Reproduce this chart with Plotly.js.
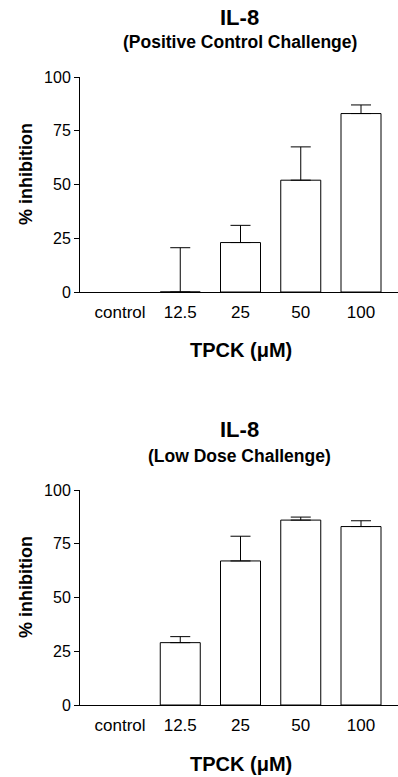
<!DOCTYPE html>
<html>
<head>
<meta charset="utf-8">
<script src="https://cdn.plot.ly/plotly-3.0.1.min.js"></script>
<style>html,body{margin:0;padding:0;background:#fff;}#chart{width:398px;height:777px;}</style>
</head>
<body>
<div id="chart"></div>
<script>
// Data
var categories = ["control", "12.5", "25", "50", "100"];
var positiveMean = [null, 0, 23, 52, 83];
var positiveErr  = [0, 20.6, 8, 15.5, 4];
var lowDoseMean  = [null, 29, 67, 86, 83];
var lowDoseErr   = [0, 2.8, 11.5, 1.4, 2.7];
var yTicks = [0, 25, 50, 75, 100];
var chartTitles = ["<b>IL-8</b>", "<b>IL-8</b>"];
var chartSubtitles = ["<b>(Positive Control Challenge)</b>", "<b>(Low Dose Challenge)</b>"];
var xTitle = "<b>TPCK (\u03bcM)</b>";
var yTitle = "<b>% inhibition</b>";

var FONT = "Liberation Sans, Arial, Helvetica, sans-serif";

function barTrace(means, errs, xa, ya) {
  return {
    type: "bar",
    x: categories,
    y: means,
    xaxis: xa,
    yaxis: ya,
    marker: {color: "#ffffff", line: {color: "#000000", width: 1}},
    error_y: {type: "data", array: errs, arrayminus: errs.map(function(){return 0;}), symmetric: false,
              color: "#000000", thickness: 1, width: 10},
    hoverinfo: "skip",
    showlegend: false
  };
}

var H = 777, W = 398;
function py(p) { return (H - p) / H; }
function px(p) { return p / W; }

function xAxis(anchor) {
  return {
    type: "category",
    anchor: anchor,
    domain: [80/398, 1],
    range: [-0.664, 4.614],
    showline: true, linecolor: "#000", linewidth: 1,
    ticks: "", showgrid: false, zeroline: false,
    ticklabelstandoff: 5,
    tickfont: {family: FONT, size: 17, color: "#000"},
    automargin: false,
    fixedrange: true
  };
}
function yAxis(anchor, domain) {
  return {
    anchor: anchor,
    domain: domain,
    range: [0, 100],
    tickvals: yTicks,
    ticktext: yTicks.map(String),
    showline: true, linecolor: "#000", linewidth: 1,
    ticks: "outside", ticklen: 5, tickwidth: 1, tickcolor: "#000",
    showgrid: false, zeroline: false,
    tickfont: {family: FONT, size: 16, color: "#000"},
    automargin: false,
    fixedrange: true
  };
}

var data = [
  barTrace(positiveMean, positiveErr, "x", "y"),
  barTrace(lowDoseMean, lowDoseErr, "x2", "y2")
];

function ann(text, x, y, size, angle) {
  return {text: text, xref: "paper", yref: "paper", x: px(x), y: py(y),
          xanchor: "center", yanchor: "middle", showarrow: false, textangle: angle || 0,
          font: {family: FONT, size: size, color: "#000"}};
}

var layout = {
  width: W, height: H,
  margin: {l: 0, r: 0, t: 0, b: 0},
  paper_bgcolor: "#fff", plot_bgcolor: "#fff",
  bargap: 0.336,
  font: {family: FONT, color: "#000"},
  xaxis: xAxis("y"),
  yaxis: yAxis("x", [py(292), py(77)]),
  xaxis2: xAxis("y2"),
  yaxis2: yAxis("x2", [py(705), py(490)]),
  annotations: [
    ann(chartTitles[0], 240, 17, 22),
    ann(chartSubtitles[0], 240, 41.5, 17.5),
    ann(xTitle, 240.5, 350, 20),
    ann(yTitle, 26, 174, 18, -90),
    ann(chartTitles[1], 240, 430, 22),
    ann(chartSubtitles[1], 240, 455.5, 17.5),
    ann(xTitle, 240.5, 764, 20),
    ann(yTitle, 26, 587, 18, -90)
  ]
};

Plotly.newPlot("chart", data, layout, {displayModeBar: false, staticPlot: true});
</script>
</body>
</html>
